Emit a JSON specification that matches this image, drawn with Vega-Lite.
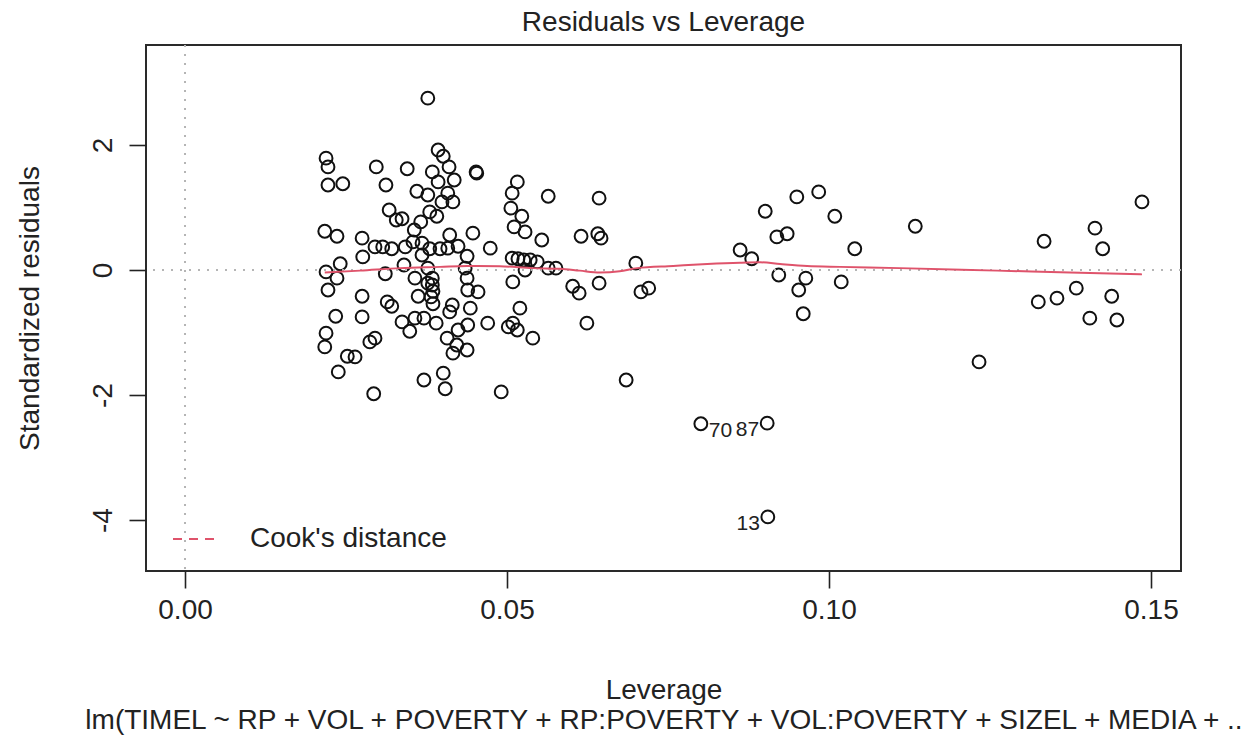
{
  "$schema": "https://vega.github.io/schema/vega-lite/v6.json",
  "width": 1035,
  "height": 526,
  "autosize": {"type": "none"},
  "padding": {"left": 146, "top": 45, "right": 78, "bottom": 173},
  "background": "white",
  "config": {
    "font": "Liberation Sans",
    "view": {"stroke": "#2a2a2a", "strokeWidth": 2},
    "axis": {
      "grid": false,
      "domain": false,
      "tickColor": "#222222",
      "tickSize": 17,
      "tickWidth": 1.6,
      "labelFont": "Liberation Sans",
      "labelFontSize": 28,
      "labelColor": "#222222",
      "titleFont": "Liberation Sans",
      "titleFontSize": 28,
      "titleFontWeight": "normal",
      "titleColor": "#222222"
    }
  },
  "title": {
    "text": "Residuals vs Leverage",
    "font": "Liberation Sans",
    "fontSize": 28,
    "fontWeight": "normal",
    "color": "#222222",
    "anchor": "middle",
    "offset": 7
  },
  "datasets": {
    "pts": [
      {"lev": 0.0377, "res": 2.75}, {"lev": 0.0219, "res": 1.79}, {"lev": 0.0222, "res": 1.65}, {"lev": 0.0297, "res": 1.65},
      {"lev": 0.0345, "res": 1.62}, {"lev": 0.0222, "res": 1.36}, {"lev": 0.0245, "res": 1.38}, {"lev": 0.0312, "res": 1.36},
      {"lev": 0.0360, "res": 1.26}, {"lev": 0.0377, "res": 1.20}, {"lev": 0.0384, "res": 1.57}, {"lev": 0.0317, "res": 0.96},
      {"lev": 0.0328, "res": 0.80}, {"lev": 0.0337, "res": 0.82}, {"lev": 0.0356, "res": 0.64}, {"lev": 0.0366, "res": 0.77},
      {"lev": 0.0380, "res": 0.93}, {"lev": 0.0217, "res": 0.62}, {"lev": 0.0236, "res": 0.54}, {"lev": 0.0275, "res": 0.51},
      {"lev": 0.0295, "res": 0.37}, {"lev": 0.0307, "res": 0.37}, {"lev": 0.0321, "res": 0.34}, {"lev": 0.0342, "res": 0.37},
      {"lev": 0.0354, "res": 0.45}, {"lev": 0.0368, "res": 0.43}, {"lev": 0.0380, "res": 0.34}, {"lev": 0.0276, "res": 0.21},
      {"lev": 0.0241, "res": 0.10}, {"lev": 0.0219, "res": -0.03}, {"lev": 0.0340, "res": 0.08}, {"lev": 0.0368, "res": 0.24},
      {"lev": 0.0377, "res": 0.03}, {"lev": 0.0236, "res": -0.13}, {"lev": 0.0222, "res": -0.32}, {"lev": 0.0311, "res": -0.06},
      {"lev": 0.0357, "res": -0.13}, {"lev": 0.0377, "res": -0.21}, {"lev": 0.0275, "res": -0.42}, {"lev": 0.0314, "res": -0.51},
      {"lev": 0.0321, "res": -0.58}, {"lev": 0.0362, "res": -0.42}, {"lev": 0.0382, "res": -0.43}, {"lev": 0.0234, "res": -0.74},
      {"lev": 0.0275, "res": -0.75}, {"lev": 0.0337, "res": -0.83}, {"lev": 0.0349, "res": -0.98}, {"lev": 0.0357, "res": -0.77},
      {"lev": 0.0371, "res": -0.77}, {"lev": 0.0390, "res": -0.85}, {"lev": 0.0219, "res": -1.01}, {"lev": 0.0217, "res": -1.23},
      {"lev": 0.0287, "res": -1.15}, {"lev": 0.0295, "res": -1.09}, {"lev": 0.0252, "res": -1.38}, {"lev": 0.0264, "res": -1.39},
      {"lev": 0.0238, "res": -1.63}, {"lev": 0.0371, "res": -1.76}, {"lev": 0.0293, "res": -1.98}, {"lev": 0.0393, "res": 1.92},
      {"lev": 0.0401, "res": 1.82}, {"lev": 0.0410, "res": 1.65}, {"lev": 0.0393, "res": 1.41}, {"lev": 0.0418, "res": 1.44},
      {"lev": 0.0452, "res": 1.57}, {"lev": 0.0453, "res": 1.55}, {"lev": 0.0408, "res": 1.23}, {"lev": 0.0399, "res": 1.09},
      {"lev": 0.0416, "res": 1.09}, {"lev": 0.0391, "res": 0.86}, {"lev": 0.0516, "res": 1.41}, {"lev": 0.0508, "res": 1.23},
      {"lev": 0.0506, "res": 0.99}, {"lev": 0.0523, "res": 0.86}, {"lev": 0.0511, "res": 0.69}, {"lev": 0.0528, "res": 0.61},
      {"lev": 0.0564, "res": 1.18}, {"lev": 0.0554, "res": 0.48}, {"lev": 0.0447, "res": 0.59}, {"lev": 0.0411, "res": 0.56},
      {"lev": 0.0474, "res": 0.35}, {"lev": 0.0438, "res": 0.22}, {"lev": 0.0424, "res": 0.38}, {"lev": 0.0396, "res": 0.34},
      {"lev": 0.0408, "res": 0.35}, {"lev": 0.0508, "res": 0.19}, {"lev": 0.0517, "res": 0.18}, {"lev": 0.0526, "res": 0.16},
      {"lev": 0.0536, "res": 0.16}, {"lev": 0.0547, "res": 0.13}, {"lev": 0.0564, "res": 0.03}, {"lev": 0.0576, "res": 0.03},
      {"lev": 0.0435, "res": 0.03}, {"lev": 0.0384, "res": -0.13}, {"lev": 0.0384, "res": -0.24}, {"lev": 0.0385, "res": -0.34},
      {"lev": 0.0385, "res": -0.54}, {"lev": 0.0438, "res": -0.13}, {"lev": 0.0439, "res": -0.32}, {"lev": 0.0455, "res": -0.35},
      {"lev": 0.0509, "res": -0.19}, {"lev": 0.0528, "res": 0.00}, {"lev": 0.0415, "res": -0.56}, {"lev": 0.0411, "res": -0.67},
      {"lev": 0.0443, "res": -0.61}, {"lev": 0.0520, "res": -0.61}, {"lev": 0.0470, "res": -0.85}, {"lev": 0.0502, "res": -0.91},
      {"lev": 0.0509, "res": -0.85}, {"lev": 0.0516, "res": -0.96}, {"lev": 0.0439, "res": -0.88}, {"lev": 0.0424, "res": -0.96},
      {"lev": 0.0407, "res": -1.09}, {"lev": 0.0422, "res": -1.20}, {"lev": 0.0416, "res": -1.33}, {"lev": 0.0438, "res": -1.28},
      {"lev": 0.0540, "res": -1.09}, {"lev": 0.0401, "res": -1.65}, {"lev": 0.0404, "res": -1.90}, {"lev": 0.0491, "res": -1.95},
      {"lev": 0.0643, "res": 1.15}, {"lev": 0.0615, "res": 0.54}, {"lev": 0.0641, "res": 0.58}, {"lev": 0.0646, "res": 0.51},
      {"lev": 0.0700, "res": 0.11}, {"lev": 0.0602, "res": -0.26}, {"lev": 0.0612, "res": -0.37}, {"lev": 0.0643, "res": -0.21},
      {"lev": 0.0708, "res": -0.35}, {"lev": 0.0720, "res": -0.29}, {"lev": 0.0624, "res": -0.85}, {"lev": 0.0685, "res": -1.76},
      {"lev": 0.0901, "res": 0.94}, {"lev": 0.0919, "res": 0.53}, {"lev": 0.0935, "res": 0.58}, {"lev": 0.0950, "res": 1.17},
      {"lev": 0.0984, "res": 1.25}, {"lev": 0.1009, "res": 0.86}, {"lev": 0.0862, "res": 0.32}, {"lev": 0.0880, "res": 0.18},
      {"lev": 0.0922, "res": -0.08}, {"lev": 0.0964, "res": -0.13}, {"lev": 0.0953, "res": -0.32}, {"lev": 0.0960, "res": -0.70},
      {"lev": 0.1019, "res": -0.19}, {"lev": 0.0801, "res": -2.46, "label": "70"}, {"lev": 0.0904, "res": -2.45, "label": "87"},
      {"lev": 0.0905, "res": -3.95, "label": "13"}, {"lev": 0.1040, "res": 0.34}, {"lev": 0.1134, "res": 0.70},
      {"lev": 0.1233, "res": -1.47}, {"lev": 0.1334, "res": 0.46}, {"lev": 0.1325, "res": -0.51}, {"lev": 0.1354, "res": -0.45},
      {"lev": 0.1384, "res": -0.29}, {"lev": 0.1413, "res": 0.67}, {"lev": 0.1425, "res": 0.34}, {"lev": 0.1439, "res": -0.42},
      {"lev": 0.1405, "res": -0.77}, {"lev": 0.1447, "res": -0.80}, {"lev": 0.1486, "res": 1.09}
    ],
    "smooth": [
      {"lev": 0.0217, "res": -0.04}, {"lev": 0.0272, "res": -0.01}, {"lev": 0.0334, "res": 0.03}, {"lev": 0.0396, "res": 0.05},
      {"lev": 0.0438, "res": 0.064}, {"lev": 0.0489, "res": 0.06}, {"lev": 0.0540, "res": 0.03}, {"lev": 0.0582, "res": 0.02},
      {"lev": 0.0613, "res": -0.01}, {"lev": 0.0644, "res": -0.04}, {"lev": 0.0675, "res": -0.02}, {"lev": 0.0702, "res": 0.03},
      {"lev": 0.0758, "res": 0.064}, {"lev": 0.0811, "res": 0.096}, {"lev": 0.0862, "res": 0.117}, {"lev": 0.0893, "res": 0.123},
      {"lev": 0.0924, "res": 0.096}, {"lev": 0.0966, "res": 0.064}, {"lev": 0.1017, "res": 0.05}, {"lev": 0.1110, "res": 0.03},
      {"lev": 0.1261, "res": -0.01}, {"lev": 0.1374, "res": -0.04}, {"lev": 0.1486, "res": -0.07}
    ],
    "cook": []
  },
  "layer": [
    {
      "data": {"name": "pts"},
      "mark": {"type": "point", "shape": "circle", "filled": false, "stroke": "#111111", "strokeWidth": 2, "size": 165, "opacity": 1},
      "encoding": {
        "x": {
          "field": "lev", "type": "quantitative",
          "scale": {"domain": [-0.00606, 0.15466], "nice": false, "zero": false},
          "axis": {
            "values": [0, 0.05, 0.1, 0.15],
            "format": ".2f",
            "labelPadding": 8,
            "title": ["Leverage", "lm(TIMEL ~ RP + VOL + POVERTY + RP:POVERTY + VOL:POVERTY + SIZEL + MEDIA +  .."],
            "titleLineHeight": 30,
            "titlePadding": 52
          }
        },
        "y": {
          "field": "res", "type": "quantitative",
          "scale": {"domain": [-4.816, 3.6], "nice": false, "zero": false},
          "axis": {
            "values": [-4, -2, 0, 2],
            "labelExpr": "'' + datum.value",
            "labelAngle": -90,
            "labelAlign": "center",
            "labelBaseline": "alphabetic",
            "labelPadding": 18,
            "title": "Standardized residuals",
            "titlePadding": 45
          }
        }
      }
    },
    {
      "data": {"name": "pts"},
      "mark": {"type": "rule", "stroke": "#b5b5b5", "strokeDash": [2, 7], "strokeWidth": 1.6},
      "encoding": {"y": {"datum": 0, "type": "quantitative"}}
    },
    {
      "data": {"name": "pts"},
      "mark": {"type": "rule", "stroke": "#b5b5b5", "strokeDash": [2, 7], "strokeWidth": 1.6},
      "encoding": {"x": {"datum": 0, "type": "quantitative"}}
    },
    {
      "data": {"name": "smooth"},
      "mark": {"type": "line", "stroke": "#DF536B", "strokeWidth": 2, "interpolate": "monotone"},
      "encoding": {
        "x": {"field": "lev", "type": "quantitative"},
        "y": {"field": "res", "type": "quantitative"}
      }
    },
    {
      "data": {"name": "pts"},
      "transform": [{"filter": "datum.label == '70'"}],
      "mark": {"type": "text", "align": "left", "baseline": "middle", "dx": 8, "dy": 7, "fontSize": 21, "font": "Liberation Sans", "color": "#222222"},
      "encoding": {
        "x": {"field": "lev", "type": "quantitative"},
        "y": {"field": "res", "type": "quantitative"},
        "text": {"field": "label", "type": "nominal"}
      }
    },
    {
      "data": {"name": "pts"},
      "transform": [{"filter": "datum.label == '87' || datum.label == '13'"}],
      "mark": {"type": "text", "align": "right", "baseline": "middle", "dx": -8, "dy": 7, "fontSize": 21, "font": "Liberation Sans", "color": "#222222"},
      "encoding": {
        "x": {"field": "lev", "type": "quantitative"},
        "y": {"field": "res", "type": "quantitative"},
        "text": {"field": "label", "type": "nominal"}
      }
    },
    {
      "data": {"name": "cook"},
      "mark": {"type": "line", "strokeDash": [9, 7], "strokeWidth": 2},
      "encoding": {
        "x": {"field": "lev", "type": "quantitative"},
        "y": {"field": "res", "type": "quantitative"},
        "color": {
          "datum": "Cook's distance",
          "type": "nominal",
          "scale": {"domain": ["Cook's distance"], "range": ["#DF536B"]},
          "legend": {
            "orient": "none",
            "legendX": 26,
            "legendY": 469,
            "title": null,
            "padding": 0,
            "symbolType": "stroke",
            "symbolDash": [9, 7],
            "symbolStrokeWidth": 2,
            "symbolSize": 2304,
            "symbolOpacity": 1,
            "labelFont": "Liberation Sans",
            "labelFontSize": 28,
            "labelColor": "#222222",
            "labelOffset": 28,
            "labelLimit": 400
          }
        }
      }
    }
  ]
}
